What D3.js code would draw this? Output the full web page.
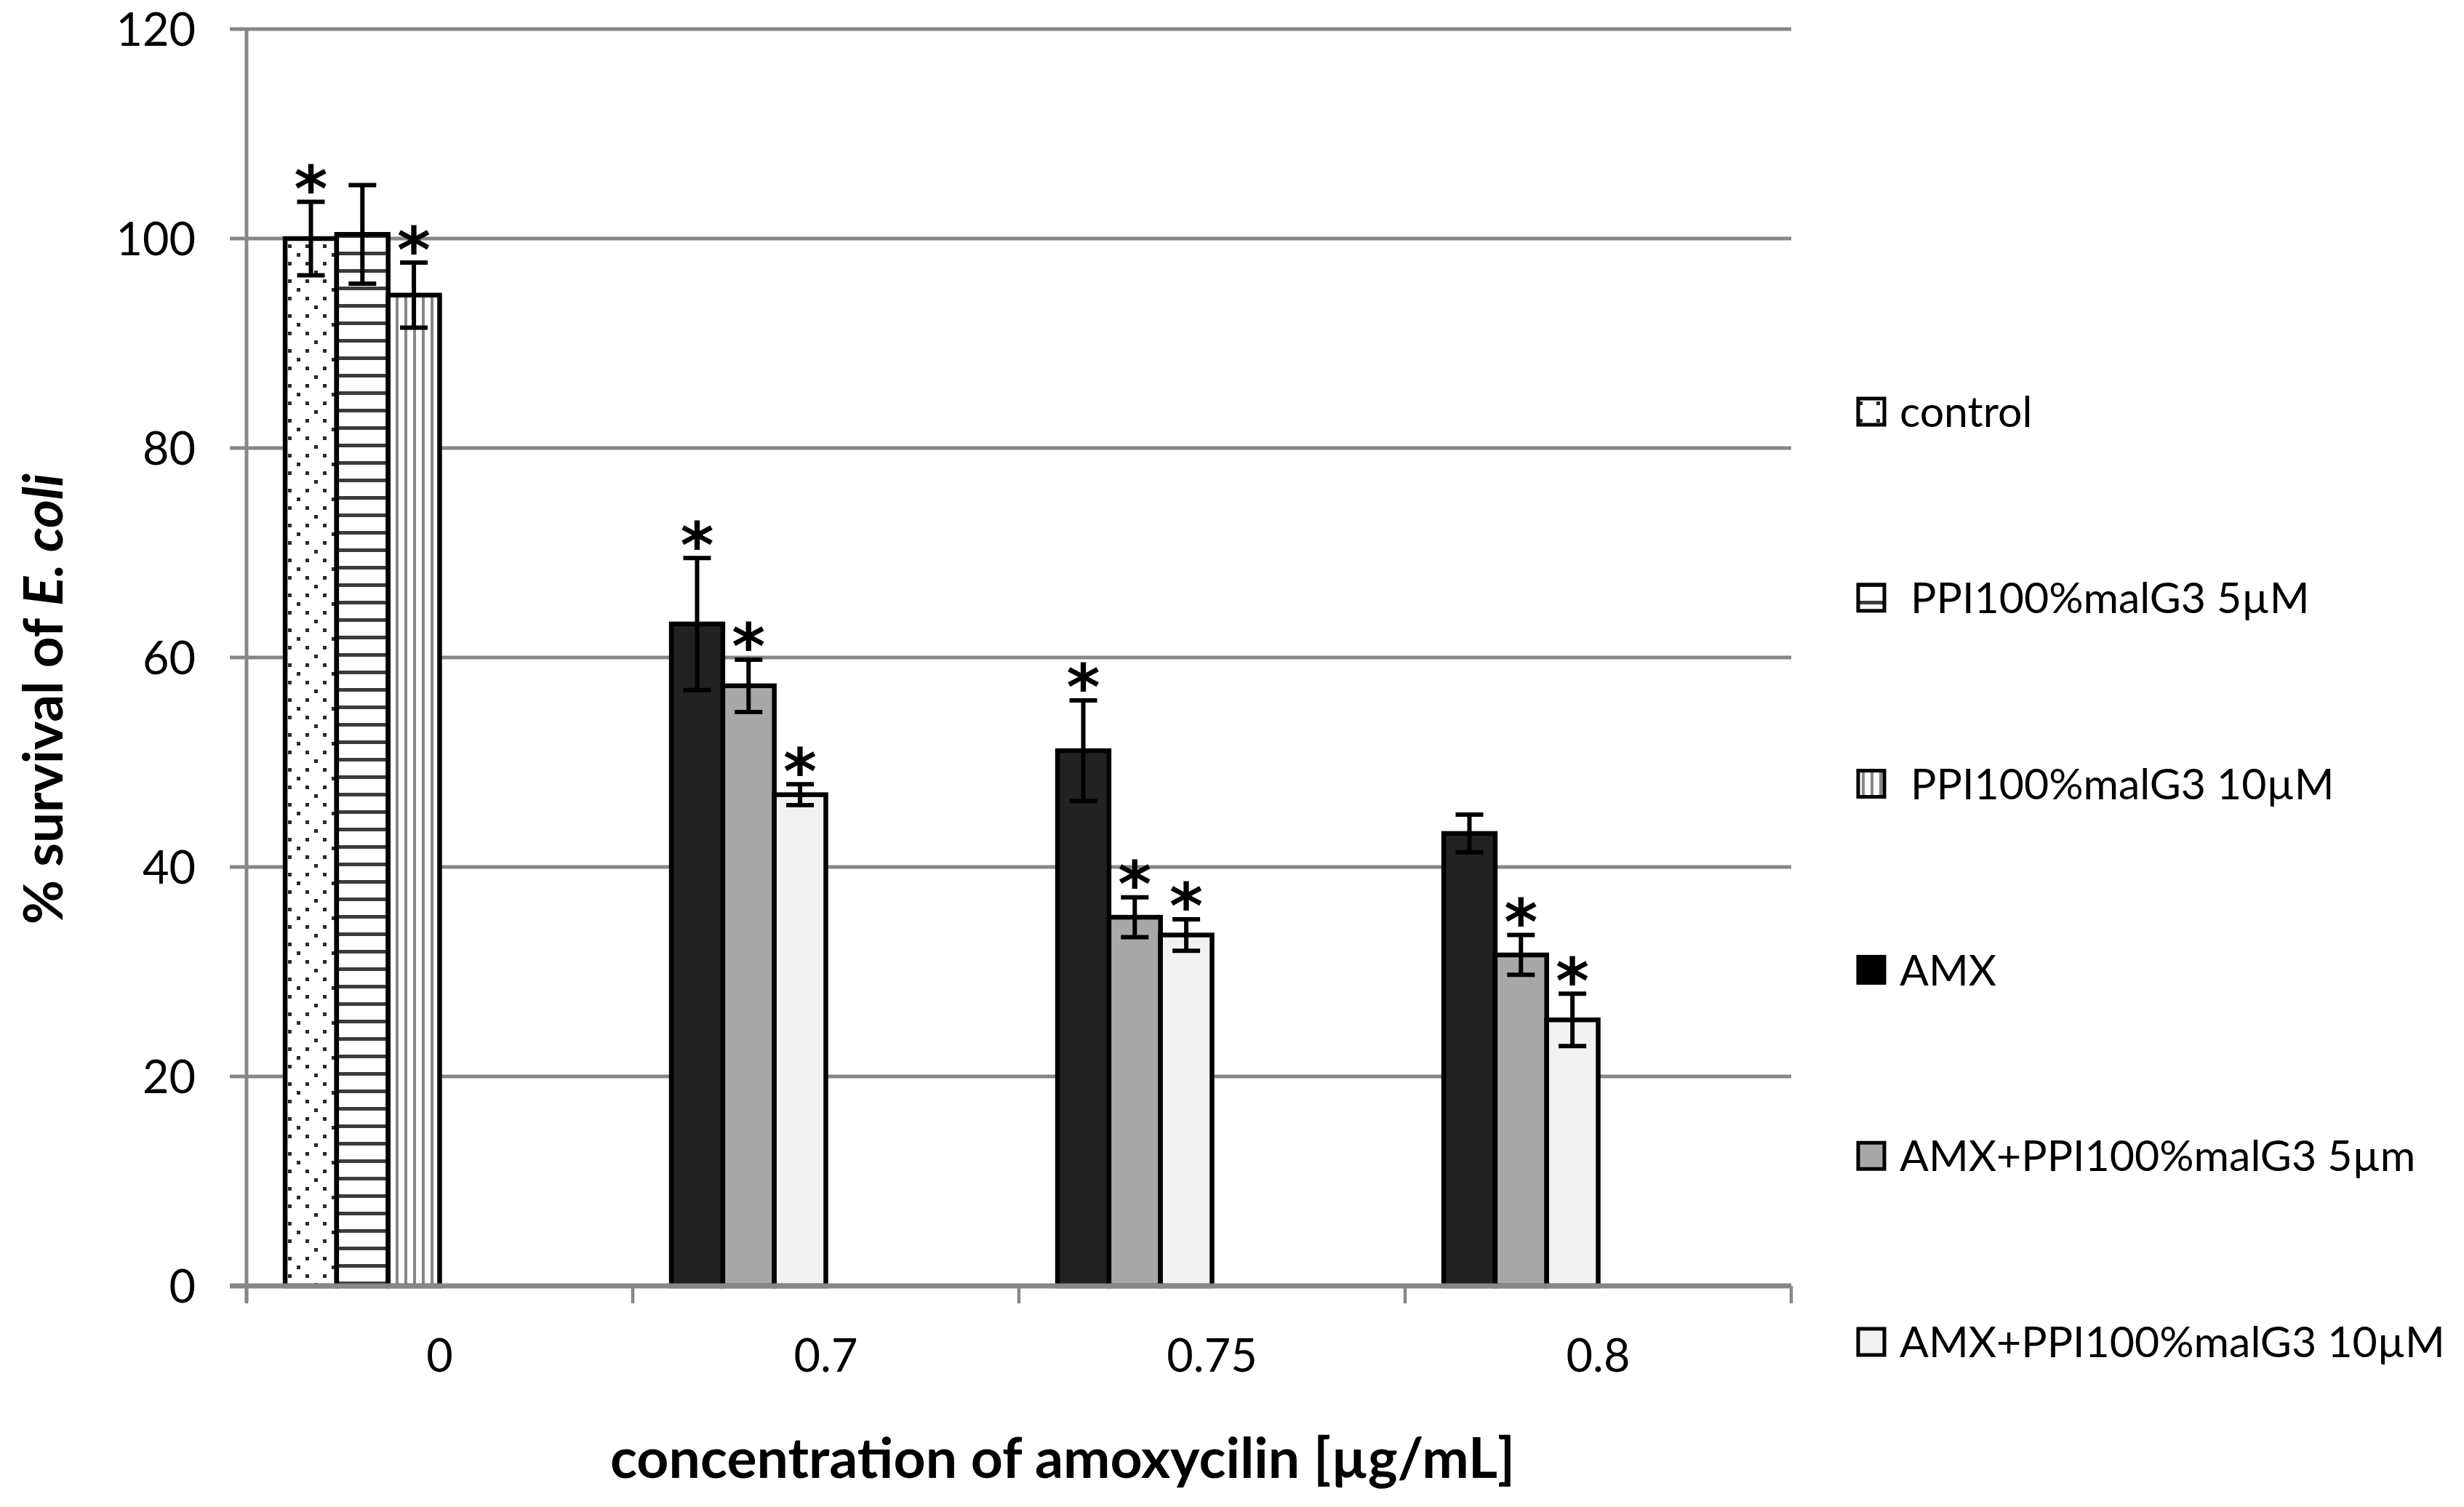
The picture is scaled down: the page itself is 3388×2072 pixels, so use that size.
<!DOCTYPE html>
<html>
<head>
<meta charset="utf-8">
<script src="https://cdn.jsdelivr.net/npm/d3@7"></script>
<style>
  html, body { margin: 0; padding: 0; background: #fff; }
  svg { display: block; }
</style>
</head>
<body>
<svg id="chart" width="3388" height="2072"></svg>
<script>
// ---------------- data ----------------
const categories = ["0", "0.7", "0.75", "0.8"];
const seriesNames = ["control", " PPI100%malG3 5µM", " PPI100%malG3 10µM", "AMX", "AMX+PPI100%malG3 5µm", "AMX+PPI100%malG3 10µM"];
const controlValues = [100.0, null, null, null];
const ppi5Values    = [100.4, null, null, null];
const ppi10Values   = [94.6, null, null, null];
const amxValues     = [null, 63.2, 51.1, 43.2];
const amx5Values    = [null, 57.3, 35.2, 31.6];
const amx10Values   = [null, 46.9, 33.5, 25.4];
const controlErrors = [3.5, null, null, null];
const ppi5Errors    = [4.7, null, null, null];
const ppi10Errors   = [3.1, null, null, null];
const amxErrors     = [null, 6.3, 4.8, 1.8];
const amx5Errors    = [null, 2.5, 1.9, 1.9];
const amx10Errors   = [null, 1.0, 1.5, 2.5];
const controlSig = [1, 0, 0, 0];
const ppi5Sig    = [0, 0, 0, 0];
const ppi10Sig   = [1, 0, 0, 0];
const amxSig     = [0, 1, 1, 0];
const amx5Sig    = [0, 1, 1, 1];
const amx10Sig   = [0, 1, 1, 1];
const yTicks = [0, 20, 40, 60, 80, 100, 120];
const xTitle = "concentration of amoxycilin [µg/mL]";

// ---------------- layout ----------------
const W = 3388, H = 2072;
const plot = { left: 339, right: 2463, top: 40, bottom: 1768 };
const svg = d3.select("#chart");
svg.append("rect").attr("width", W).attr("height", H).attr("fill", "#fff");

const values = [controlValues, ppi5Values, ppi10Values, amxValues, amx5Values, amx10Values];
const errors = [controlErrors, ppi5Errors, ppi10Errors, amxErrors, amx5Errors, amx10Errors];
const sigs = [controlSig, ppi5Sig, ppi10Sig, amxSig, amx5Sig, amx10Sig];
const fills = ["url(#pDots)", "url(#pHoriz)", "url(#pVert)", "#222222", "#a8a8a8", "#f2f2f2"];

const x0 = d3.scaleBand().domain(categories).range([plot.left, plot.right]).paddingInner(0).paddingOuter(0);
const x1 = d3.scaleBand().domain(d3.range(6)).range([0, x0.bandwidth()]).paddingInner(0).paddingOuter(0.75);
const y = d3.scaleLinear().domain([0, 120]).range([plot.bottom, plot.top]);

// patterns
const defs = svg.append("defs");
const pd = defs.append("pattern").attr("id", "pDots").attr("patternUnits", "userSpaceOnUse")
  .attr("width", 48).attr("height", 48);
pd.append("rect").attr("width", 48).attr("height", 48).attr("fill", "#fff");
[[12,0],[36,0],[24,12],[12,24],[36,24],[0,36]].forEach(([a,b]) =>
  pd.append("rect").attr("x", a).attr("y", b).attr("width", 5).attr("height", 5).attr("fill", "#2a2a2a"));
const ph = defs.append("pattern").attr("id", "pHoriz").attr("patternUnits", "userSpaceOnUse")
  .attr("width", 24).attr("height", 24);
ph.append("rect").attr("width", 24).attr("height", 24).attr("fill", "#fff");
ph.append("rect").attr("y", 10).attr("width", 24).attr("height", 5).attr("fill", "#3c3c3c");
const pv = defs.append("pattern").attr("id", "pVert").attr("patternUnits", "userSpaceOnUse")
  .attr("width", 12).attr("height", 12);
pv.append("rect").attr("width", 12).attr("height", 12).attr("fill", "#fff");
pv.append("rect").attr("x", 4).attr("width", 4).attr("height", 12).attr("fill", "#868686");

// gridlines
const gridColor = "#878787";
svg.append("g").selectAll("line").data(yTicks.filter(t => t > 0)).join("line")
  .attr("x1", plot.left - 23).attr("x2", plot.right)
  .attr("y1", d => y(d)).attr("y2", d => y(d))
  .attr("stroke", gridColor).attr("stroke-width", 5);

// y axis line
svg.append("line").attr("x1", plot.left).attr("x2", plot.left)
  .attr("y1", plot.top).attr("y2", plot.bottom + 22)
  .attr("stroke", gridColor).attr("stroke-width", 5);

// y tick labels
svg.append("g").selectAll("text").data(yTicks).join("text")
  .attr("x", 269).attr("y", d => y(d)).attr("dy", "0.36em")
  .attr("text-anchor", "end")
  .style("font-family", "Lato, 'Open Sans', sans-serif").style("font-size", "63px")
  .attr("fill", "#000").text(d => d);

// bars
const barData = [];
values.forEach((arr, s) => arr.forEach((v, c) => {
  if (v != null) barData.push({ s, c, v, e: errors[s][c], sig: sigs[s][c] });
}));
const slotOf = s => s % 3;
const bx = d => x0(categories[d.c]) + x1(slotOf(d.s));
const bw = x1.bandwidth();

svg.append("g").selectAll("rect").data(barData).join("rect")
  .attr("x", bx).attr("width", bw)
  .attr("y", d => y(d.v)).attr("height", d => y(0) - y(d.v))
  .attr("fill", d => fills[d.s])
  .attr("stroke", "#000").attr("stroke-width", 6.5);

// x axis line + ticks
svg.append("line").attr("x1", plot.left - 23).attr("x2", plot.right)
  .attr("y1", plot.bottom).attr("y2", plot.bottom)
  .attr("stroke", gridColor).attr("stroke-width", 7);
const boundaries = categories.map(c => x0(c)).concat([plot.right]);
svg.append("g").selectAll("line").data(boundaries).join("line")
  .attr("x1", d => d).attr("x2", d => d)
  .attr("y1", plot.bottom).attr("y2", plot.bottom + 24)
  .attr("stroke", gridColor).attr("stroke-width", 4.5);

// error bars
const eb = svg.append("g").attr("stroke", "#000").attr("stroke-width", 6);
const capHalf = 19;
barData.forEach(d => {
  const cx = bx(d) + bw / 2;
  eb.append("line").attr("x1", cx).attr("x2", cx).attr("y1", y(d.v + d.e)).attr("y2", y(d.v - d.e));
  eb.append("line").attr("x1", cx - capHalf).attr("x2", cx + capHalf).attr("y1", y(d.v + d.e)).attr("y2", y(d.v + d.e));
  eb.append("line").attr("x1", cx - capHalf).attr("x2", cx + capHalf).attr("y1", y(d.v - d.e)).attr("y2", y(d.v - d.e));
});

// significance asterisks
const ag = svg.append("g");
barData.filter(d => d.sig).forEach(d => {
  const cx = bx(d) + bw / 2;
  const t = ag.append("text").attr("x", cx).attr("y", 0).attr("text-anchor", "middle")
    .style("font-family", "'DejaVu Sans', sans-serif").style("font-size", "88px").style("font-weight", "bold")
    .attr("fill", "#000").text("*");
  const bb = t.node().getBBox();
  const inkBottom = bb.y + bb.height * 0.52;
  t.attr("y", y(d.v + d.e) - 16 - inkBottom);
});

// x tick labels
svg.append("g").selectAll("text").data(categories).join("text")
  .attr("x", d => x0(d) + x0.bandwidth() / 2).attr("y", 1886)
  .attr("text-anchor", "middle")
  .style("font-family", "Lato, 'Open Sans', sans-serif").style("font-size", "63px")
  .attr("fill", "#000").text(d => d);

// x title
svg.append("text").attr("x", 1461).attr("y", 2032).attr("text-anchor", "middle")
  .style("font-family", "Lato, 'Open Sans', sans-serif").style("font-size", "77px").style("font-weight", "bold")
  .attr("fill", "#000").text(xTitle);

// y title (fit to the reference's extent)
const yt = svg.append("text").attr("transform", "translate(86,961) rotate(-90)").attr("text-anchor", "middle")
  .style("font-family", "Lato, 'Open Sans', sans-serif").style("font-size", "72px").style("font-weight", "bold")
  .attr("fill", "#000");
yt.append("tspan").text("% survival of ");
yt.append("tspan").style("font-style", "italic").text("E. coli");
const ytLen = yt.node().getComputedTextLength();
yt.style("font-size", Math.min(77, 72 * 620 / ytLen) + "px");

// legend
const legendY = d3.scaleLinear().domain([0, 5]).range([566, 1845]);
const lg = svg.append("g");
seriesNames.forEach((name, i) => {
  const cy = legendY(i);
  lg.append("rect").attr("x", 2555).attr("y", cy - 18).attr("width", 36).attr("height", 36)
    .attr("fill", i === 3 ? "#000" : fills[i]).attr("stroke", "#000").attr("stroke-width", 5);
  lg.append("text").attr("x", 2612).attr("y", cy).attr("dy", "0.36em")
    .attr("xml:space", "preserve").style("white-space", "pre")
    .style("font-family", "Lato, 'Open Sans', sans-serif").style("font-size", "59px")
    .attr("fill", "#000").text(name);
});
</script>
</body>
</html>
